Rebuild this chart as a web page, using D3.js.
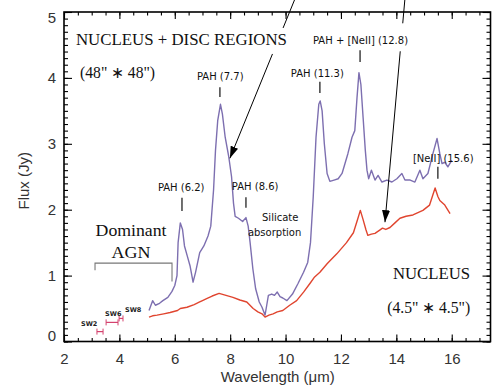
<!DOCTYPE html>
<html>
<head>
<meta charset="utf-8">
<script src="https://cdn.jsdelivr.net/npm/d3@7"></script>
<style>
  html, body { margin: 0; padding: 0; background: #fff; }
  svg { display: block; }
</style>
</head>
<body>
<svg id="chart" width="497" height="389"></svg>
<script>
// ---- data -------------------------------------------------------------
const xTickValues = [2, 4, 6, 8, 10, 12, 14, 16];
const yTickValues = [0, 1, 2, 3, 4, 5];

// Nucleus + disc regions (48" x 48")
const discWavelength = [5.07, 5.2, 5.3, 5.45, 5.57, 5.75, 5.9, 6.0, 6.08, 6.12, 6.2, 6.28, 6.35, 6.45, 6.55, 6.66,
  6.75, 6.9, 7.05, 7.2, 7.3, 7.4, 7.47, 7.55, 7.65, 7.72, 7.82, 7.95, 8.05, 8.12, 8.18, 8.3, 8.45, 8.57, 8.65,
  8.72, 8.82, 8.92, 9.05, 9.15, 9.26, 9.32, 9.38, 9.5, 9.6, 9.7, 9.8, 9.9, 10.05, 10.25, 10.45, 10.65, 10.8,
  10.9, 11.0, 11.1, 11.2, 11.25, 11.32, 11.4, 11.5, 11.6, 11.75, 11.9, 12.04, 12.25, 12.4, 12.5, 12.58, 12.65,
  12.72, 12.8, 12.88, 12.94, 13.0, 13.1, 13.23, 13.34, 13.48, 13.66, 13.84, 14.02, 14.2, 14.31, 14.5, 14.67,
  14.85, 14.96, 15.14, 15.32, 15.47, 15.57, 15.65, 15.75, 15.86, 16.0];
const discFlux = [0.47, 0.62, 0.55, 0.58, 0.62, 0.67, 0.76, 0.85, 1.0, 1.5, 1.8, 1.7, 1.45, 1.3, 1.15, 0.9,
  1.05, 1.35, 1.45, 1.6, 1.75, 2.3, 2.9, 3.35, 3.6, 3.45, 3.1, 2.8, 2.5, 2.1, 1.9, 1.87, 1.82, 1.88, 1.75,
  1.5, 1.1, 0.8, 0.6, 0.52, 0.4, 0.55, 0.7, 0.72, 0.7, 0.75, 0.68, 0.66, 0.62, 0.72, 0.88, 1.05, 1.2,
  1.5, 2.2, 3.1, 3.6, 3.65, 3.5, 3.0, 2.55, 2.43, 2.45, 2.47, 2.55, 2.85, 3.1, 3.2, 3.7, 4.08,
  3.9, 3.4, 2.9, 2.6, 2.47, 2.6, 2.45, 2.52, 2.42, 2.45, 2.42, 2.47, 2.55, 2.45, 2.45, 2.42,
  2.6, 2.47, 2.55, 2.85, 3.08, 2.85, 2.7, 2.72, 2.65, 2.75];

// Nucleus only (4.5" x 4.5")
const nucleusWavelength = [5.07, 5.2, 5.36, 5.6, 5.83, 6.1, 6.2, 6.44, 6.7, 6.9, 7.0, 7.15, 7.35, 7.6, 7.85,
  8.1, 8.35, 8.6, 8.83, 9.0, 9.15, 9.26, 9.4, 9.55, 9.7, 9.9, 10.15, 10.4, 10.65, 10.88, 11.05, 11.24, 11.5,
  11.85, 12.2, 12.45, 12.6, 12.7, 12.8, 12.9, 12.97, 13.1, 13.23, 13.4, 13.5, 13.62, 13.77, 13.95, 14.13,
  14.35, 14.6, 14.8, 14.96, 15.2, 15.3, 15.4, 15.5, 15.57, 15.75, 15.94];
const nucleusFlux = [0.37, 0.39, 0.40, 0.42, 0.44, 0.47, 0.5, 0.52, 0.56, 0.6, 0.62, 0.65, 0.69, 0.73, 0.7,
  0.67, 0.63, 0.6, 0.5, 0.45, 0.42, 0.37, 0.4, 0.42, 0.45, 0.47, 0.55, 0.62, 0.75, 0.88, 0.98, 1.05, 1.18,
  1.33, 1.5, 1.65, 1.85, 1.99, 1.85, 1.7, 1.61, 1.63, 1.64, 1.69, 1.72, 1.7, 1.73, 1.8, 1.87,
  1.9, 1.92, 1.96, 1.99, 2.07, 2.2, 2.33, 2.2, 2.14, 2.07, 1.94];

// Broad-band filter photometry
const filterNames = ["SW2", "SW6", "SW8"];
const filterLow = [3.19, 3.52, 3.99];
const filterHigh = [3.41, 3.95, 4.13];
const filterFlux = [0.15, 0.29, 0.35];

// ---- layout -----------------------------------------------------------
const svg = d3.select("#chart");
const x = d3.scaleLinear().domain([2, 17.4]).range([64, 490.5]);
const y = d3.scaleLinear().domain([0, 5]).range([341.5, 12]);

const discColor = "#7d6fb0";
const nucleusColor = "#e0452f";
const serif = "'Liberation Serif', 'Times New Roman', serif";
const sans = "'Liberation Sans', Arial, sans-serif";
const labelSans = "'DejaVu Sans', sans-serif";

// feature labels: text, text start (µm), baseline (Jy), marker position and extent
const features = [
  { text: "PAH (6.2)", tx: 5.39, ty: 2.28, mx: 6.26, m0: 2.18, m1: 1.98 },
  { text: "PAH (7.7)", tx: 6.80, ty: 3.97, mx: 7.63, m0: 3.86, m1: 3.71 },
  { text: "PAH (8.6)", tx: 8.06, ty: 2.30, mx: 8.57, m0: 2.19, m1: 2.03 },
  { text: "PAH (11.3)", tx: 10.19, ty: 4.01, mx: 11.24, m0: 3.94, m1: 3.77 },
  { text: "PAH + [NeII] (12.8)", tx: 10.99, ty: 4.51, mx: 12.69, m0: 4.42, m1: 4.24 },
  { text: "[NeII] (15.6)", tx: 14.60, ty: 2.72, mx: 15.50, m0: 2.65, m1: 2.47 }
];

// arrows pointing at each spectrum (start above the frame)
const arrows = [
  { x0: 10.34, y0: 5.2, x1: 7.99, y1: 2.78 },
  { x0: 14.31, y0: 5.2, x1: 13.59, y1: 1.81 }
];

// arrowhead marker
svg.append("defs").append("marker")
  .attr("id", "head")
  .attr("markerUnits", "userSpaceOnUse")
  .attr("viewBox", "0 0 12 8")
  .attr("refX", 12).attr("refY", 4)
  .attr("markerWidth", 12).attr("markerHeight", 8)
  .attr("orient", "auto")
  .append("path").attr("d", "M0,0 L12,4 L0,8 Z").attr("fill", "#000");

// ---- spectra ----------------------------------------------------------
const line = d3.line().x(d => x(d[0])).y(d => y(d[1]));

svg.append("path")
  .datum(discWavelength.map((w, i) => [w, discFlux[i]]))
  .attr("d", line).attr("fill", "none")
  .attr("stroke", discColor).attr("stroke-width", 1.4).attr("stroke-linejoin", "round");

svg.append("path")
  .datum(nucleusWavelength.map((w, i) => [w, nucleusFlux[i]]))
  .attr("d", line).attr("fill", "none")
  .attr("stroke", nucleusColor).attr("stroke-width", 1.4).attr("stroke-linejoin", "round");

// ---- arrows -----------------------------------------------------------
svg.selectAll("line.arrow").data(arrows).join("line")
  .attr("class", "arrow")
  .attr("x1", d => x(d.x0)).attr("y1", d => y(d.y0))
  .attr("x2", d => x(d.x1)).attr("y2", d => y(d.y1))
  .attr("stroke", "#000").attr("stroke-width", 1)
  .attr("marker-end", "url(#head)");

// ---- region titles (white backing hides the arrow shafts behind) -----
function boxedText(str, wx, wy, size, font, length) {
  const g = svg.append("g");
  const t = g.append("text")
    .attr("x", x(wx)).attr("y", y(wy))
    .attr("font-family", font).attr("font-size", size).attr("fill", "#111")
    .text(str);
  if (length) t.attr("textLength", length).attr("lengthAdjust", "spacingAndGlyphs");
  return { g, t };
}

const title = boxedText("NUCLEUS + DISC  REGIONS", 2.43, 4.5, 17, serif, 211);
const bb = title.t.node().getBBox();
title.g.insert("rect", "text")
  .attr("x", bb.x - 2).attr("y", bb.y - 2).attr("width", bb.width + 8).attr("height", bb.height + 7)
  .attr("fill", "#fff");

boxedText("(48\" \u2217 48\")", 2.58, 4.0, 16, serif, 75);
boxedText("Dominant", 3.14, 1.60, 17, serif, 71);
boxedText("AGN", 3.72, 1.27, 17, serif, 39);
boxedText("NUCLEUS", 13.88, 0.95, 17, serif, 77);
boxedText("(4.5\" \u2217 4.5\")", 13.67, 0.44, 16, serif, 83);

// Dominant AGN bracket
const bracket = [[3.12, 1.08], [3.12, 1.19], [5.9, 1.19], [5.9, 0.91]];
svg.append("path")
  .attr("d", "M" + x(bracket[0][0]) + "," + y(bracket[0][1]) +
             "L" + x(bracket[1][0]) + "," + y(bracket[1][1]) +
             "L" + x(bracket[2][0]) + "," + y(bracket[2][1]) +
             "L" + x(bracket[3][0]) + "," + y(bracket[3][1]))
  .attr("fill", "none").attr("stroke", "#777").attr("stroke-width", 1.1);

// ---- feature labels ---------------------------------------------------
const fg = svg.append("g");
features.forEach(f => {
  const t = fg.append("text")
    .attr("x", x(f.tx)).attr("y", y(f.ty))
    .attr("font-family", labelSans).attr("font-size", 10).attr("fill", "#111")
    .text(f.text);
  if (f.text.startsWith("PAH +")) {
    const b = t.node().getBBox();
    fg.insert("rect", "text")
      .attr("x", b.x - 2).attr("y", b.y - 12).attr("width", b.width + 4).attr("height", b.height + 17)
      .attr("fill", "#fff");
  }
  fg.append("line")
    .attr("x1", x(f.mx)).attr("x2", x(f.mx))
    .attr("y1", y(f.m0)).attr("y2", y(f.m1))
    .attr("stroke", "#111").attr("stroke-width", 1.2);
});

svg.append("text").attr("x", x(9.15)).attr("y", y(1.83))
  .attr("font-family", labelSans).attr("font-size", 10).attr("fill", "#111").text("Silicate");
svg.append("text").attr("x", x(8.64)).attr("y", y(1.60))
  .attr("font-family", labelSans).attr("font-size", 10).attr("fill", "#111").text("absorption");

// ---- filter points ----------------------------------------------------
const filt = svg.append("g");
filterNames.forEach((name, i) => {
  const yy = y(filterFlux[i]);
  filt.append("line").attr("x1", x(filterLow[i])).attr("x2", x(filterHigh[i]))
    .attr("y1", yy).attr("y2", yy).attr("stroke", "#d4426e").attr("stroke-width", 1.2);
  [filterLow[i], filterHigh[i]].forEach(w => {
    filt.append("line").attr("x1", x(w)).attr("x2", x(w))
      .attr("y1", yy - 3).attr("y2", yy + 3).attr("stroke", "#d4426e").attr("stroke-width", 1);
  });
});
const filterLabelDx = [-16, -1, 2];
const filterLabelDy = [-6, -6, -6];
filterNames.forEach((name, i) => {
  const anchor = i === 2 ? x(filterHigh[i]) : x(filterLow[i]);
  filt.append("text")
    .attr("x", anchor + filterLabelDx[i]).attr("y", y(filterFlux[i]) + filterLabelDy[i])
    .attr("font-family", labelSans).attr("font-size", 6.5).attr("font-weight", "bold")
    .attr("fill", "#222").text(name);
});

// ---- axes -------------------------------------------------------------
const axisColor = "#000";
function styleAxis(g) {
  g.select(".domain").remove();
  g.selectAll(".tick line").attr("stroke", axisColor).attr("stroke-width", 1.1);
  g.selectAll(".tick text").attr("font-family", sans).attr("font-size", 15).attr("fill", "#333");
}

const minorX = d3.range(2, 17.4, 0.5);
const minorY = d3.range(0, 5.001, 0.1);

svg.append("g").attr("transform", "translate(0," + y(0) + ")")
  .call(d3.axisBottom(x).tickValues(minorX).tickSize(-3.5).tickFormat(""))
  .call(styleAxis);
svg.append("g").attr("transform", "translate(0," + y(0) + ")")
  .call(d3.axisBottom(x).tickValues(xTickValues).tickSize(-7).tickPadding(12).tickFormat(d3.format("d")))
  .call(styleAxis);

svg.append("g").attr("transform", "translate(0," + y(5) + ")")
  .call(d3.axisTop(x).tickValues(minorX).tickSize(-3.5).tickFormat(""))
  .call(styleAxis);
svg.append("g").attr("transform", "translate(0," + y(5) + ")")
  .call(d3.axisTop(x).tickValues(xTickValues).tickSize(-7).tickFormat(""))
  .call(styleAxis);

svg.append("g").attr("transform", "translate(" + x(2) + ",0)")
  .call(d3.axisLeft(y).tickValues(minorY).tickSize(-4).tickFormat(""))
  .call(styleAxis);
const yAxis = svg.append("g").attr("transform", "translate(" + x(2) + ",0)")
  .call(d3.axisLeft(y).tickValues(yTickValues).tickSize(-8).tickPadding(8).tickFormat(d3.format("d")))
  .call(styleAxis);
yAxis.selectAll(".tick text").attr("dy", d => d === 0 ? "-0.05em" : d === 5 ? "0.7em" : "0.32em");

svg.append("g").attr("transform", "translate(" + x(17.4) + ",0)")
  .call(d3.axisRight(y).tickValues(minorY).tickSize(-4).tickFormat(""))
  .call(styleAxis);
svg.append("g").attr("transform", "translate(" + x(17.4) + ",0)")
  .call(d3.axisRight(y).tickValues(yTickValues).tickSize(-8).tickFormat(""))
  .call(styleAxis);

// frame
svg.append("rect")
  .attr("x", x(2)).attr("y", y(5)).attr("width", x(17.4) - x(2)).attr("height", y(0) - y(5))
  .attr("fill", "none").attr("stroke", "#000").attr("stroke-width", 1.6);

// axis titles
svg.append("text")
  .attr("x", (x(2) + x(17.4)) / 2 + 0.5).attr("y", 382)
  .attr("text-anchor", "middle").attr("font-family", sans).attr("font-size", 15).attr("fill", "#333")
  .text("Wavelength (\u03bcm)");
svg.append("text")
  .attr("transform", "translate(29," + ((y(0) + y(5)) / 2 + 4) + ") rotate(-90)")
  .attr("text-anchor", "middle").attr("font-family", sans).attr("font-size", 15).attr("fill", "#333")
  .text("Flux (Jy)");
</script>
</body>
</html>
